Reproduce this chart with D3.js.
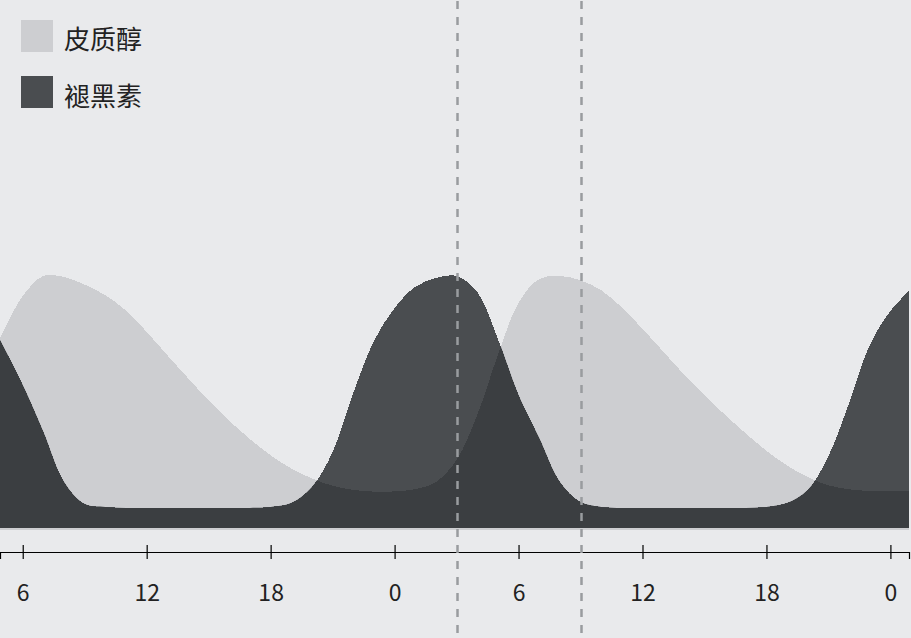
<!DOCTYPE html>
<html><head><meta charset="utf-8">
<script src="https://cdn.jsdelivr.net/npm/d3@7"></script>
<style>
html,body{margin:0;padding:0;background:#e9eaec;overflow:hidden}
svg{display:block}
text{font-family:"Noto Sans CJK SC","Noto Sans",sans-serif}
</style></head><body>
<svg id="c" width="911" height="638"></svg>
<script>
// hours (time since midnight of day 1)
const hours = [4.9,6,7,8,9,10,11,12,13,14,15,16,17,18,19,20,21,22,23,24,25,26,27,28,29,30,31,32,33,34,35,36,37,38,39,40,41,42,43,44,45,46,47,48,48.9];
const cortisol = [75.6,92.1,100,99.6,96.6,92.4,86.4,78.0,68.8,59.8,51.0,43.0,35.8,29.4,24.2,20.3,17.4,15.8,15.1,15.2,16.1,18.9,27.6,45.3,68.9,89.4,98.8,100,98.3,94.4,87.6,79.2,70.3,61.3,53.0,45.3,38.0,31.2,25.4,20.8,17.6,16.0,15.4,15.4,15.4];
const melatonin = [74.8,57.1,38.6,18.9,10.2,9.1,8.7,8.7,8.7,8.7,8.7,8.7,8.7,9.1,10.6,16.9,30.7,53.9,74.4,87.4,95.7,99.2,100,93.7,75.2,53.1,36.2,18.9,11.0,9.1,8.7,8.7,8.7,8.7,8.7,8.7,8.7,9.1,10.6,15.7,29.1,50.0,72.8,86.2,94.1];
const tickHours = [6,12,18,24,30,36,42,48];
const markerHours = [27,33];
const seriesNames = ["皮质醇","褪黑素"];
const seriesColors = ["#cdced1","#4a4d50"];
const overlapColor = "#3b3e41";

const svg = d3.select("#c");
const x = d3.scaleLinear().domain([4.9,48.9]).range([0,909]);
const y = d3.scaleLinear().domain([0,100]).range([530,276]);

const cData = hours.map((h,i)=>({h, v:cortisol[i]}));
const mData = hours.map((h,i)=>({h, v:melatonin[i]}));

const curve = d3.curveCatmullRom.alpha(0.5);
const areaC = d3.area().x(d=>x(d.h)).y0(y(0)).y1(d=>y(d.v)).curve(curve);
const areaM = d3.area().x(d=>x(d.h)).y0(y(0)-2).y1(d=>y(d.v)).curve(curve);

svg.append("defs").append("clipPath").attr("id","mclip")
  .append("path").attr("d", areaM(mData));

svg.append("path").attr("d", areaC(cData)).attr("fill", seriesColors[0]).attr("shape-rendering","crispEdges");
svg.append("path").attr("d", areaM(mData)).attr("fill", seriesColors[1]).attr("shape-rendering","crispEdges");
svg.append("path").attr("d", areaC(cData)).attr("fill", overlapColor).attr("clip-path","url(#mclip)").attr("shape-rendering","crispEdges");

// axis
const axis = d3.axisBottom(x).tickValues(tickHours).tickSizeOuter(0).tickSize(7).tickPadding(0).tickFormat(d=>d%24);
const gA = svg.append("g").attr("transform","translate(0,552)").call(axis);
gA.select(".domain").attr("stroke","#000").attr("stroke-width",1.2);
gA.selectAll(".tick line").attr("y1",-7).attr("y2",7).attr("stroke","#000").attr("stroke-width",1.2);
gA.selectAll(".tick text").attr("y",41).attr("dy","0.35em").attr("font-size",23).attr("fill","#222")
  .style("font-family",'"Noto Sans CJK SC","Noto Sans",sans-serif');

// markers
svg.selectAll("line.marker").data(markerHours).join("line").attr("class","marker")
  .attr("x1",d=>Math.round(x(d))+0.5).attr("x2",d=>Math.round(x(d))+0.5)
  .attr("y1",1).attr("y2",638).attr("stroke","#999c9f").attr("stroke-width",2.5)
  .attr("stroke-dasharray","8,8");

// legend
const lg = svg.append("g");
seriesNames.forEach((n,i)=>{
  lg.append("rect").attr("x",21).attr("y",20+i*56).attr("width",32).attr("height",32).attr("fill",seriesColors[i]);
  lg.append("text").attr("x",64).attr("y",40+i*57).attr("dy","0.35em").attr("font-size",26).attr("fill","#222").text(n);
});
</script>
</body></html>
